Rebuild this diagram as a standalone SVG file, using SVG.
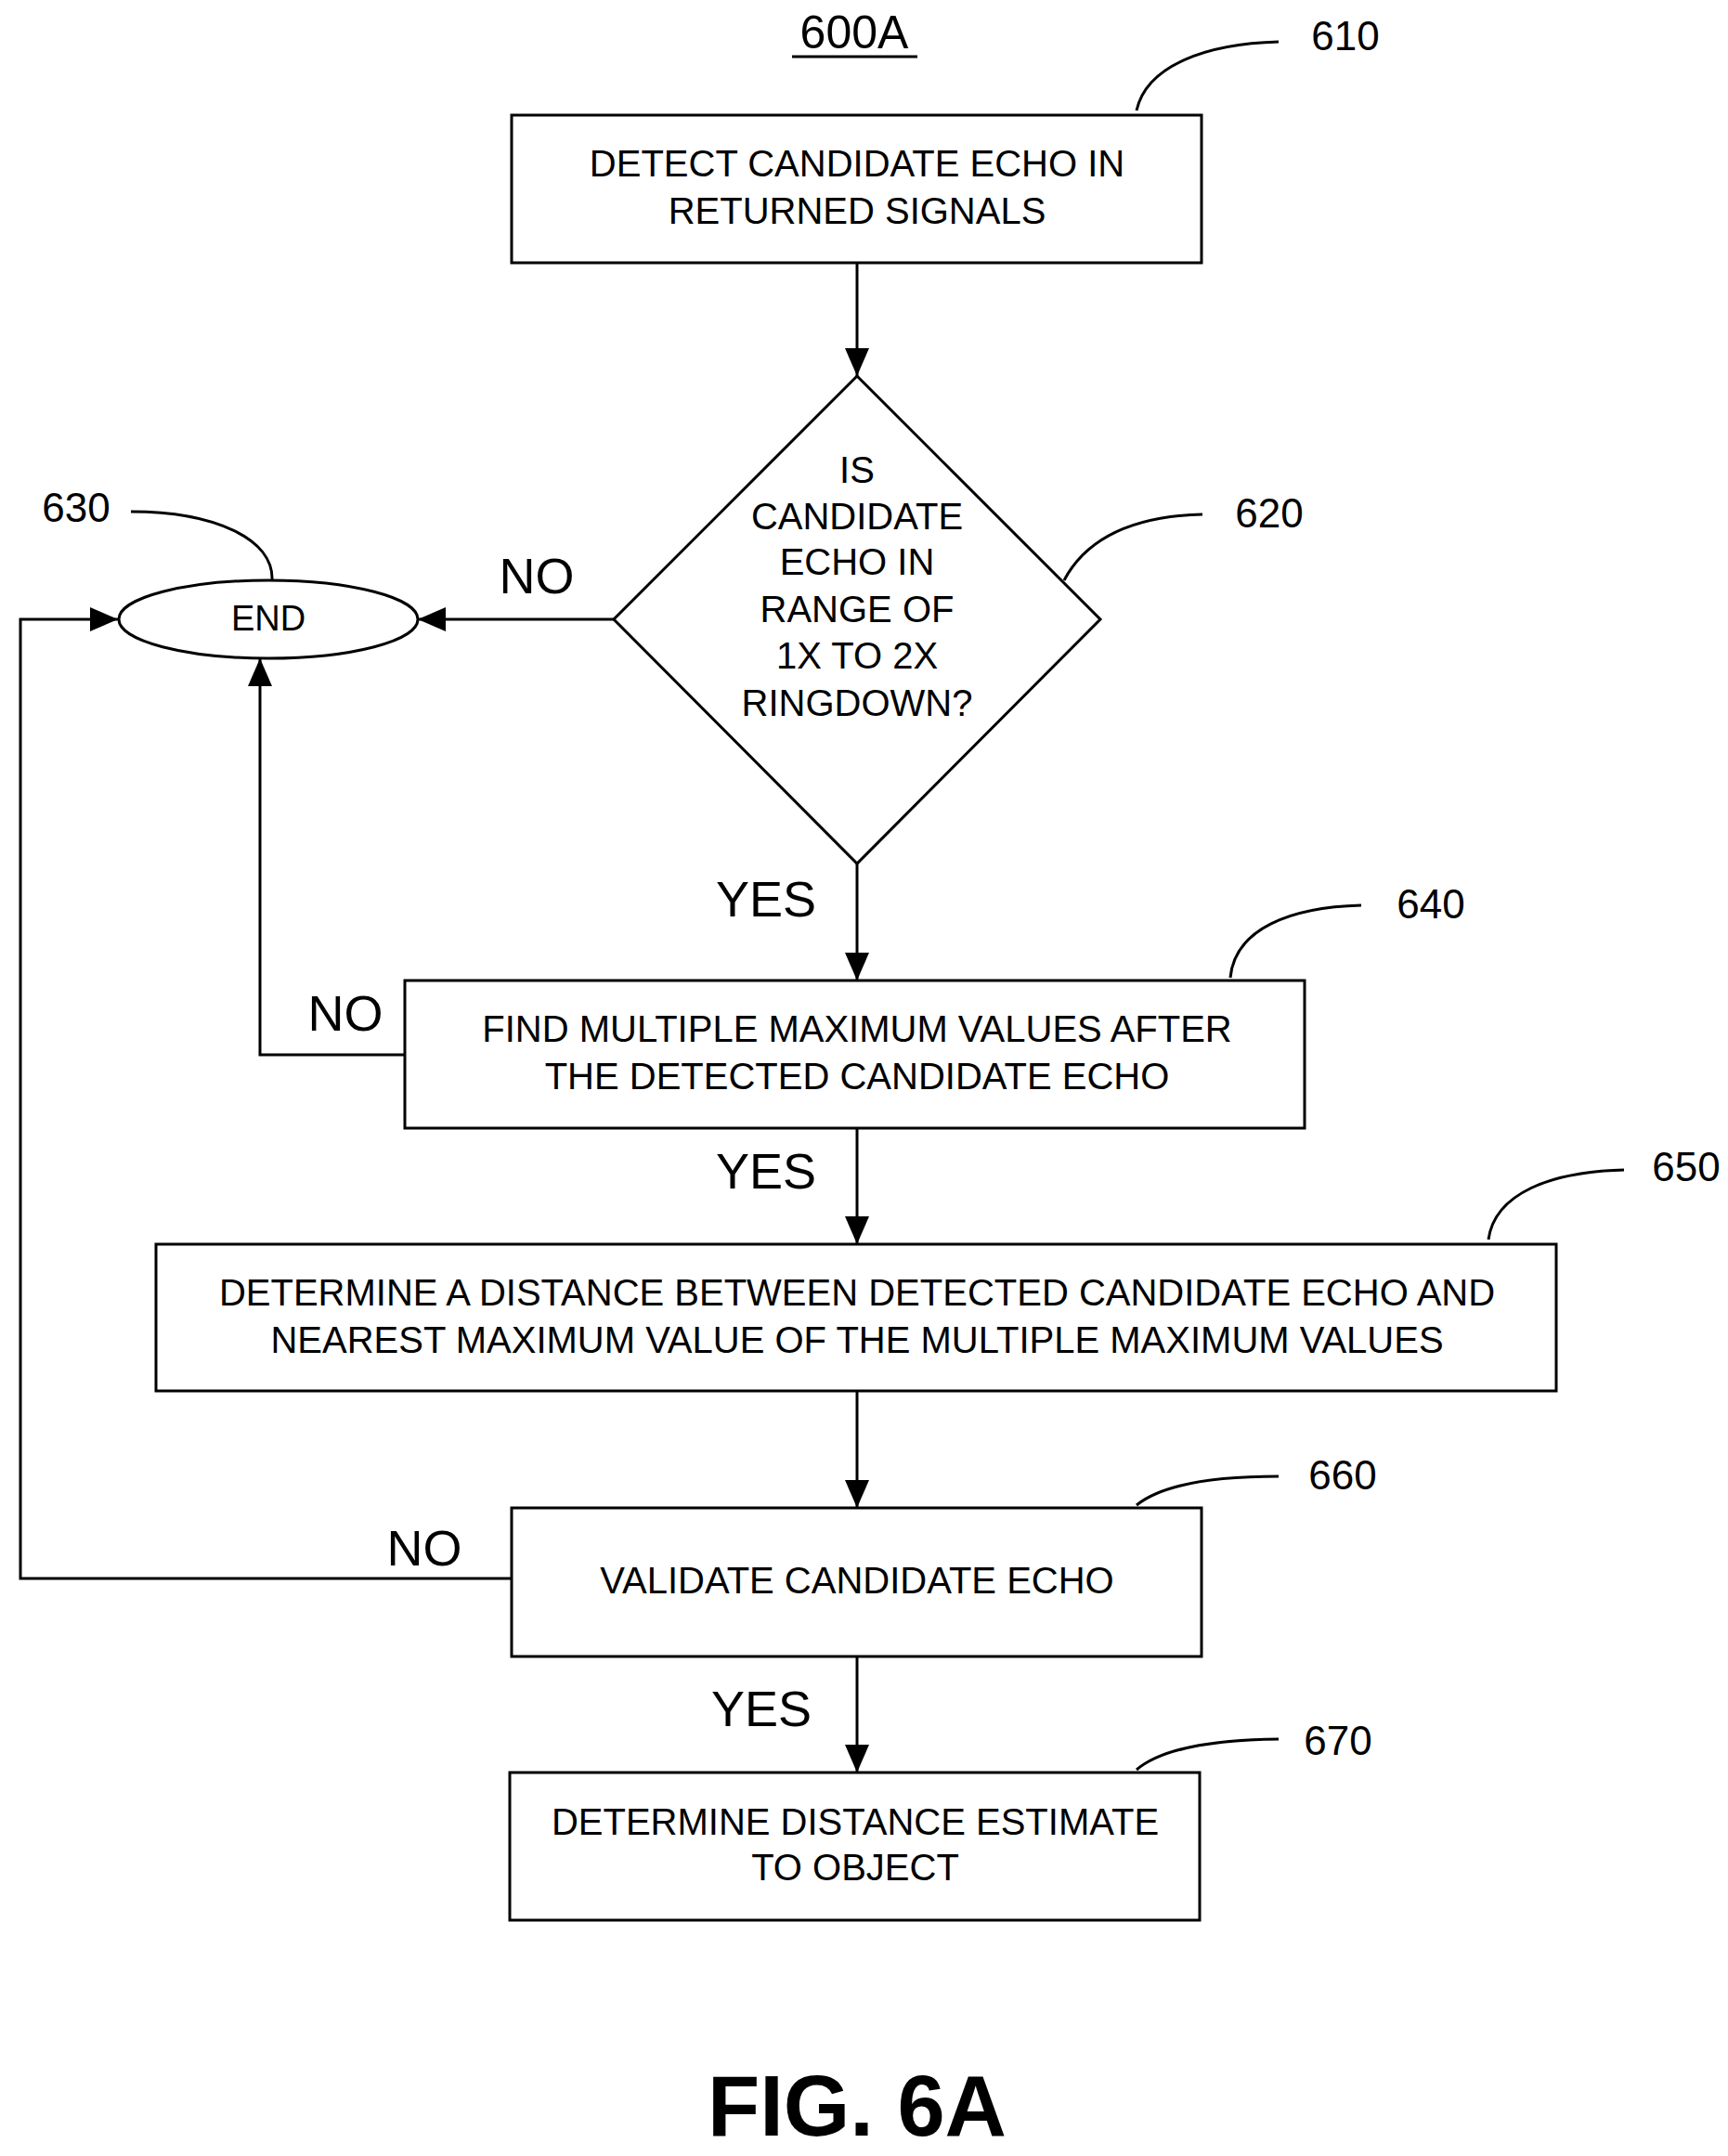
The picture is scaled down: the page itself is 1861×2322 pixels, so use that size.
<svg xmlns="http://www.w3.org/2000/svg" width="1861" height="2322" viewBox="0 0 1861 2322">
<style>
.b{fill:#fff;stroke:#000;stroke-width:3}
.t{font-family:"Liberation Sans",Arial,sans-serif;font-size:40px;text-anchor:middle;dominant-baseline:central;fill:#000}
.l{font-family:"Liberation Sans",Arial,sans-serif;font-size:44px;text-anchor:middle;dominant-baseline:central;fill:#000}
.y{font-family:"Liberation Sans",Arial,sans-serif;font-size:54px;text-anchor:middle;dominant-baseline:central;fill:#000}
.c{fill:none;stroke:#000;stroke-width:3}
.lead{fill:none;stroke:#000;stroke-width:3}
</style>
<defs>
<marker id="ah" markerWidth="30" markerHeight="26" refX="30" refY="13" orient="auto" markerUnits="userSpaceOnUse"><path d="M0,0L30,13L0,26z" fill="#000"/></marker></defs>
<rect width="1861" height="2322" fill="#fff"/>
<text class="l" x="920" y="35" style="font-size:50px">600A</text>
<line x1="853" y1="61" x2="988" y2="61" stroke="#000" stroke-width="3"/>
<g id="connectors">
<line class="c" x1="923" y1="283" x2="923" y2="405" marker-end="url(#ah)"/>
<line class="c" x1="661" y1="667" x2="450" y2="667" marker-end="url(#ah)"/>
<line class="c" x1="923" y1="930" x2="923" y2="1056" marker-end="url(#ah)"/>
<polyline class="c" points="436,1136 280,1136 280,709" marker-end="url(#ah)"/>
<line class="c" x1="923" y1="1215" x2="923" y2="1340" marker-end="url(#ah)"/>
<line class="c" x1="923" y1="1498" x2="923" y2="1624" marker-end="url(#ah)"/>
<polyline class="c" points="551,1700 22,1700 22,667 127,667" marker-end="url(#ah)"/>
<line class="c" x1="923" y1="1784" x2="923" y2="1909" marker-end="url(#ah)"/>
<text class="y" x="578" y="620">NO</text>
<text class="y" x="825" y="968">YES</text>
<text class="y" x="372" y="1091">NO</text>
<text class="y" x="825" y="1261">YES</text>
<text class="y" x="457" y="1667">NO</text>
<text class="y" x="820" y="1840">YES</text>
</g>
<g id="n610">
<rect class="b" x="551" y="124" width="743" height="159"/>
<text class="t" x="923" y="176">DETECT CANDIDATE ECHO IN</text>
<text class="t" x="923" y="227">RETURNED SIGNALS</text>
<path class="lead" d="M1224,119 C1235,70 1300,47 1377,45"/>
<text class="l" x="1449" y="38">610</text>
</g>
<g id="n620">
<polygon class="b" points="923,405 1185,667 923,930 661,667"/>
<text class="t" x="923" y="506">IS</text>
<text class="t" x="923" y="556">CANDIDATE</text>
<text class="t" x="923" y="605">ECHO IN</text>
<text class="t" x="923" y="656">RANGE OF</text>
<text class="t" x="923" y="706">1X TO 2X</text>
<text class="t" x="923" y="757">RINGDOWN?</text>
<path class="lead" d="M1146,625 C1170,580 1220,556 1295,554"/>
<text class="l" x="1367" y="552">620</text>
</g>
<g id="n630">
<ellipse class="b" cx="289" cy="667" rx="161" ry="42"/>
<text class="t" x="289" y="666" style="font-size:38px">END</text>
<path class="lead" d="M293,625 C295,580 230,551 141,551"/>
<text class="l" x="82" y="546">630</text>
</g>
<g id="n640">
<rect class="b" x="436" y="1056" width="969" height="159"/>
<text class="t" x="923" y="1108">FIND MULTIPLE MAXIMUM VALUES AFTER</text>
<text class="t" x="923" y="1159">THE DETECTED CANDIDATE ECHO</text>
<path class="lead" d="M1325,1053 C1330,1000 1390,977 1466,975"/>
<text class="l" x="1541" y="973">640</text>
</g>
<g id="n650">
<rect class="b" x="168" y="1340" width="1508" height="158"/>
<text class="t" x="923" y="1392">DETERMINE A DISTANCE BETWEEN DETECTED CANDIDATE ECHO AND</text>
<text class="t" x="923" y="1443">NEAREST MAXIMUM VALUE OF THE MULTIPLE MAXIMUM VALUES</text>
<path class="lead" d="M1603,1335 C1610,1285 1670,1262 1749,1260"/>
<text class="l" x="1816" y="1256">650</text>
</g>
<g id="n660">
<rect class="b" x="551" y="1624" width="743" height="160"/>
<text class="t" x="923" y="1702">VALIDATE CANDIDATE ECHO</text>
<path class="lead" d="M1224,1621 C1250,1600 1300,1590 1377,1590"/>
<text class="l" x="1446" y="1588">660</text>
</g>
<g id="n670">
<rect class="b" x="549" y="1909" width="743" height="159"/>
<text class="t" x="921" y="1962">DETERMINE DISTANCE ESTIMATE</text>
<text class="t" x="921" y="2011">TO OBJECT</text>
<path class="lead" d="M1224,1906 C1250,1884 1300,1874 1377,1873"/>
<text class="l" x="1441" y="1874">670</text>
</g>
<text x="923" y="2268" style="font-family:'Liberation Sans',Arial,sans-serif;font-size:92px;font-weight:bold;text-anchor:middle;dominant-baseline:central">FIG. 6A</text>
</svg>
